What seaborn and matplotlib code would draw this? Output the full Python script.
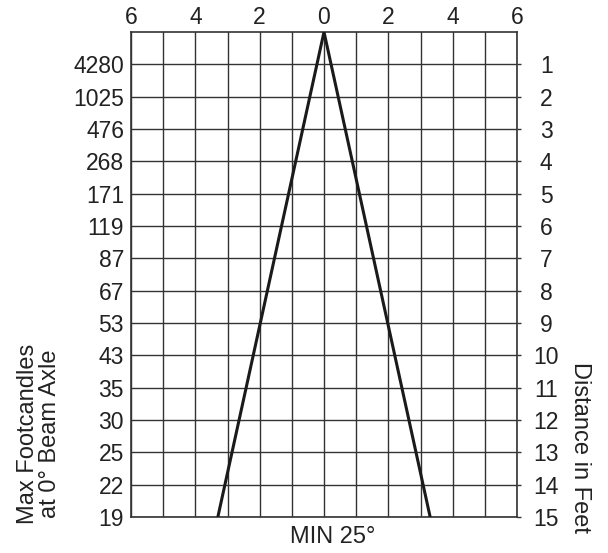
import matplotlib
matplotlib.use('Agg')
import matplotlib.pyplot as plt
import seaborn as sns
import pandas as pd

distance = list(range(1, 16))
footcandles = ['4280', '1025', '476', '268', '171', '119', '87', '67',
               '53', '43', '35', '30', '25', '22', '19']
width_ticks = list(range(-6, 7))
width_labels = [str(abs(v)) if v % 2 == 0 else '' for v in width_ticks]
beam_width = [-3.3, 0, 3.3]
beam_dist = [15, 0, 15]
beam_label = 'MIN 25°'

sns.set_style('white')
plt.rcParams['font.family'] = ['Liberation Sans', 'DejaVu Sans']

FS = 16.5
TXT = '#222'

fig = plt.figure(figsize=(6.08, 5.53), dpi=100)
ax = fig.add_axes([131 / 608, 1 - 517 / 553, 386 / 608, 485 / 553])

beam = pd.DataFrame({'w': beam_width, 'd': beam_dist})
sns.lineplot(data=beam, x='w', y='d', sort=False, estimator=None,
             color='#1a1a1a', lw=2.2, ax=ax, zorder=5)

ax.set_xlim(-6, 6)
ax.set_ylim(15, 0)
ax.set_xticks(width_ticks)
ax.set_xticklabels(width_labels, fontsize=FS, color=TXT)
ax.xaxis.tick_top()
ax.tick_params(axis='x', length=0, pad=2)
ax.set_yticks(distance)
ax.set_yticklabels(footcandles, fontsize=FS, color=TXT)
ax.tick_params(axis='y', length=0, pad=5)
ax.grid(True, color='#333', lw=1)
for s in ax.spines.values():
    s.set_color('#333')
    s.set_linewidth(1.2)
ax.set_xlabel('')
ax.set_ylabel('')

ax2 = ax.twinx()
ax2.set_ylim(15, 0)
ax2.set_yticks(distance)
ax2.set_yticklabels([str(d) for d in distance], fontsize=FS, color=TXT,
                    ha='center')
ax2.tick_params(axis='y', length=3, width=1, color='#333', pad=18, direction='out')
for s in ax2.spines.values():
    s.set_visible(False)

fig.text(333 / 608, 1 - 537 / 553, beam_label, ha='center', va='center',
         fontsize=FS + 0.5, color=TXT)
fig.text(39 / 608, 1 - 524 / 553, 'Max Footcandles\nat 0° Beam Axle',
         rotation=90, ha='center', va='bottom', fontsize=FS + 0.5, color=TXT,
         linespacing=0.95)
fig.text(580 / 608, 1 - 362 / 553, 'Distance in Feet', rotation=-90,
         ha='center', va='top', fontsize=FS + 0.5, color=TXT)

fig.savefig('out.png', dpi=100)
